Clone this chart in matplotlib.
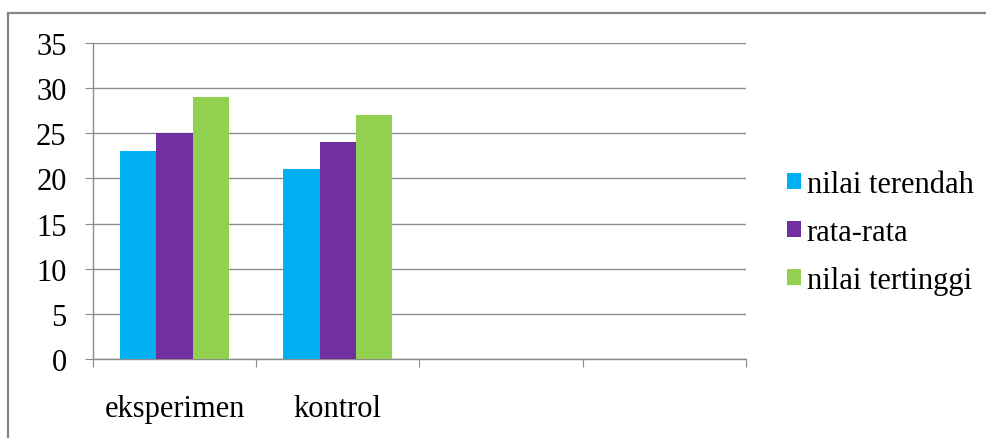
import matplotlib
matplotlib.use("Agg")
import matplotlib.pyplot as plt
from matplotlib.patches import Rectangle, Patch

categories = ["eksperimen", "kontrol", "", ""]
series_names = ["nilai terendah", "rata-rata", "nilai tertinggi"]
nilai_terendah = [23, 21]
rata_rata = [25, 24]
nilai_tertinggi = [29, 27]
y_ticks = [0, 5, 10, 15, 20, 25, 30, 35]

colors = ["#00B0F0", "#7030A0", "#92D050"]
grid_color = "#8c8c8c"

plt.rcParams["font.family"] = ["Liberation Serif", "DejaVu Serif"]

fig = plt.figure(figsize=(9.87, 4.39), dpi=100)
ax = fig.add_axes([93 / 987, 1 - 360 / 439, (746 - 93) / 987, (360 - 44) / 439])

# excel style: gap width 150% -> bar = 1 / 4.5 of a category
bar_w = 1 / 4.5
values = [nilai_terendah, rata_rata, nilai_tertinggi]
for i, (vals, c) in enumerate(zip(values, colors)):
    xs = [k + 0.5 + (i - 1) * bar_w for k in range(len(vals))]
    ax.bar(xs, vals, width=bar_w, color=c, zorder=3, label=series_names[i])

ax.set_xlim(0, len(categories))
ax.set_ylim(0, 35)
ax.set_yticks(y_ticks)
ax.set_xticks(range(len(categories) + 1))
ax.set_xticklabels([])
ax.set_xticks([k + 0.5 for k in range(len(categories))], minor=True)
ax.set_xticklabels(categories, minor=True)

ax.grid(axis="y", color=grid_color, linewidth=1.0, zorder=0)
for s in ["top", "right"]:
    ax.spines[s].set_visible(False)
for s in ["left", "bottom"]:
    ax.spines[s].set_color(grid_color)
    ax.spines[s].set_linewidth(1.0)

ax.tick_params(axis="y", which="major", length=6, color=grid_color,
               labelsize=22, pad=13)
ax.tick_params(axis="x", which="major", length=6, color=grid_color)
ax.tick_params(axis="x", which="minor", length=0, labelsize=22, pad=25)

handles = [Patch(facecolor=c) for c in colors]
fig.legend(handles, series_names, loc="upper left",
           bbox_to_anchor=(787 / 987, 1 - 171 / 439), frameon=False,
           fontsize=22, handlelength=0.45, handleheight=0.45,
           handletextpad=0.2, labelspacing=0.62, borderpad=0, borderaxespad=0)

fig.patches.append(Rectangle((8 / 987, -0.1), 1.2, 1.1 - 14 / 439,
                             transform=fig.transFigure, fill=False,
                             edgecolor="#868686", linewidth=1.6))

fig.savefig("out.png", dpi=100)
